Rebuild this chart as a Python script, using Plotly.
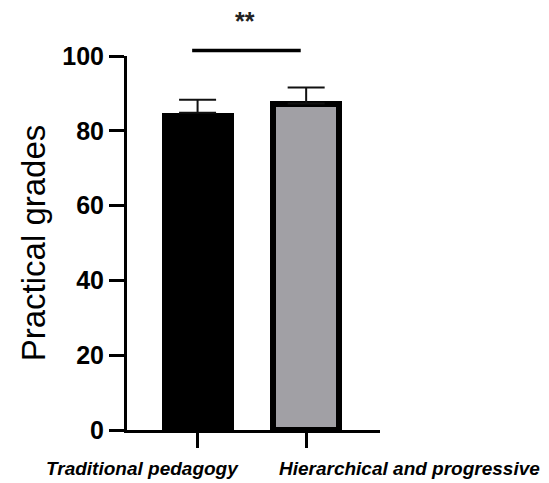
import plotly.graph_objects as go

categories = ["Traditional pedagogy", "Hierarchical and progressive"]
means = [84.8, 87.3]
sd_upper = [3.5, 4.3]
sig_x = [-0.05, 0.95]
sig_y = 101.5
sig_label = "**"
sig_label_x = 0.44
sig_label_y = 113.6
y_ticks = [0, 20, 40, 60, 80, 100]

x_pos = list(range(len(categories)))
y_max = 100
x_range = [-0.65, 1.68]

fig = go.Figure()
fig.add_trace(go.Bar(
    x=x_pos,
    y=means,
    width=[0.663, 0.608],
    marker=dict(color=["#000000", "#a1a0a5"],
                line=dict(color="#000000", width=[0, 6])),
    error_y=dict(type="data", symmetric=False, array=sd_upper,
                 arrayminus=[0, 0], color="#111111", thickness=2, width=18.5),
    cliponaxis=False,
    showlegend=False,
))

# significance bracket (y in data units, mapped to paper fraction of the [0, y_max] axis)
fig.add_shape(type="line", xref="x", yref="paper",
              x0=sig_x[0], x1=sig_x[1], y0=sig_y / y_max, y1=sig_y / y_max,
              line=dict(color="#000000", width=3.5))
fig.add_annotation(x=sig_label_x, y=sig_label_y / y_max, xref="x", yref="paper",
                   text="<b>%s</b>" % sig_label, showarrow=False,
                   font=dict(family="Liberation Sans", size=25, color="#222"))

# category labels (offset from ticks, as in the source figure)
label_paper_x = [0.063, 1.117]
for lbl, px in zip(categories, label_paper_x):
    fig.add_annotation(x=px, y=-0.102, xref="paper", yref="paper",
                       text="<b><i>%s</i></b>" % lbl, showarrow=False,
                       xanchor="center", yanchor="middle",
                       font=dict(family="Liberation Sans", size=19, color="#000"))

# page has an 8px body margin, so the figure is 8px smaller and margins shifted
fig.update_layout(
    width=541, height=475,
    margin=dict(l=119, r=169, t=48, b=53, autoexpand=False),
    paper_bgcolor="white", plot_bgcolor="white",
    font=dict(family="Liberation Sans", color="#000000"),
    bargap=0,
)
fig.update_xaxes(
    range=x_range,
    tickmode="array", tickvals=x_pos, ticktext=["", ""],
    ticks="outside", ticklen=15, tickwidth=3, tickcolor="#000",
    showline=True, linecolor="#000", linewidth=3,
    showgrid=False, zeroline=False,
)
fig.update_yaxes(
    range=[0, y_max],
    tickvals=y_ticks,
    ticktext=["<b>%d</b>" % v for v in y_ticks],
    tickfont=dict(size=25, family="Liberation Sans"),
    ticks="outside", ticklen=15, tickwidth=3, tickcolor="#000",
    showline=True, linecolor="#000", linewidth=3,
    showgrid=False, zeroline=False,
    title=dict(text="Practical grades", font=dict(size=33, family="Liberation Sans"), standoff=7),
)

fig.write_html("out.html")
